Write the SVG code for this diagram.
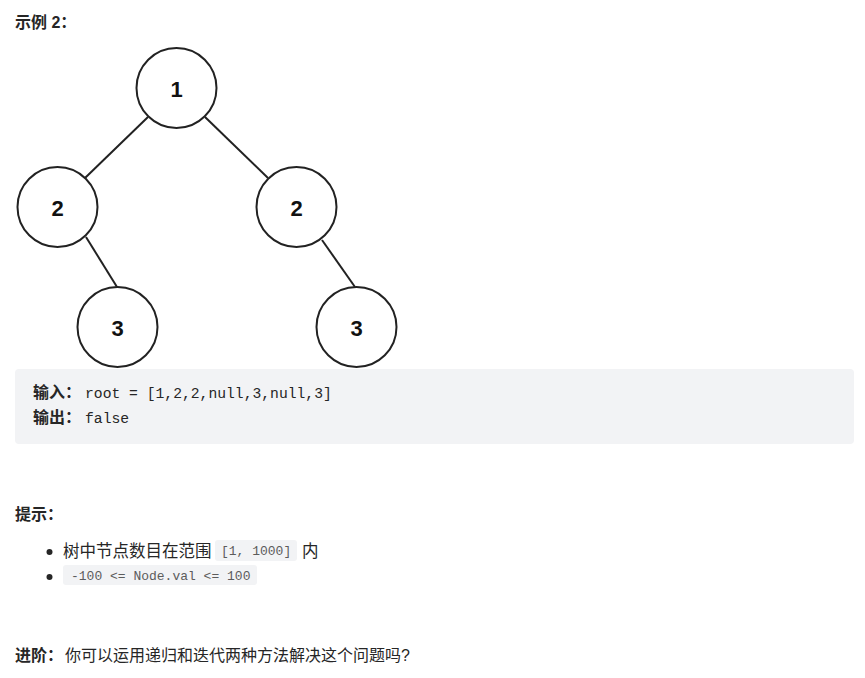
<svg xmlns="http://www.w3.org/2000/svg" width="865" height="678" viewBox="0 0 865 678">
<style>
.t{font-family:"Liberation Sans","Noto Sans CJK SC",sans-serif;font-size:16px;fill:#262626}
.b{font-weight:bold}
.m{font-family:"Liberation Mono","Noto Sans CJK SC",monospace;font-size:14.7px;fill:#262626}
.c{font-family:"Liberation Mono",monospace;font-size:13px;fill:#5c5c5c}
.chip{fill:#f2f3f5}
.node circle{fill:#fff;stroke:#222;stroke-width:2}
.node text{font-family:"Liberation Sans",Arial,sans-serif;font-size:22px;font-weight:bold;fill:#111;text-anchor:middle}
.edge line{stroke:#222;stroke-width:2}
</style>
<rect width="865" height="678" fill="#fff"/>
<text class="t b" x="15" y="28">示例 2：</text>
<g class="edge" id="connectors">
<line x1="148" y1="117" x2="85" y2="178"/>
<line x1="205" y1="117" x2="268" y2="178"/>
<line x1="86" y1="237" x2="117" y2="287"/>
<line x1="322" y1="240" x2="355" y2="287"/>
</g>
<g class="node" id="n1"><circle cx="176.5" cy="88" r="40"/><text x="176.5" y="96.5">1</text></g>
<g class="node" id="n2l"><circle cx="57.5" cy="207" r="40"/><text x="57.5" y="215.5">2</text></g>
<g class="node" id="n2r"><circle cx="296.5" cy="207" r="40"/><text x="296.5" y="215.5">2</text></g>
<g class="node" id="n3l"><circle cx="117.5" cy="327" r="40"/><text x="117.5" y="335.5">3</text></g>
<g class="node" id="n3r"><circle cx="356.5" cy="327" r="40"/><text x="356.5" y="335.5">3</text></g>
<rect class="chip" x="15" y="369" width="839" height="75" rx="4"/>
<text class="t b" x="33" y="398">输入：</text>
<text class="m" x="85" y="398">root = [1,2,2,null,3,null,3]</text>
<text class="t b" x="33" y="423">输出：</text>
<text class="m" x="85" y="423">false</text>
<text class="t b" x="15" y="520">提示：</text>
<circle cx="49.5" cy="552" r="3" fill="#262626"/>
<text class="t" x="63" y="557" style="font-size:16.5px">树中节点数目在范围</text>
<rect class="chip" x="215" y="540" width="82" height="21" rx="3"/>
<text class="c" x="221" y="555">[1, 1000]</text>
<text class="t" x="302" y="557" style="font-size:16.5px">内</text>
<circle cx="49.5" cy="577" r="3" fill="#262626"/>
<rect class="chip" x="63" y="565" width="194" height="20" rx="3"/>
<text class="c" x="71" y="580">-100 &lt;= Node.val &lt;= 100</text>
<text class="t b" x="15" y="661">进阶：</text>
<text class="t" x="65" y="661">你可以运用递归和迭代两种方法解决这个问题吗?</text>
</svg>
